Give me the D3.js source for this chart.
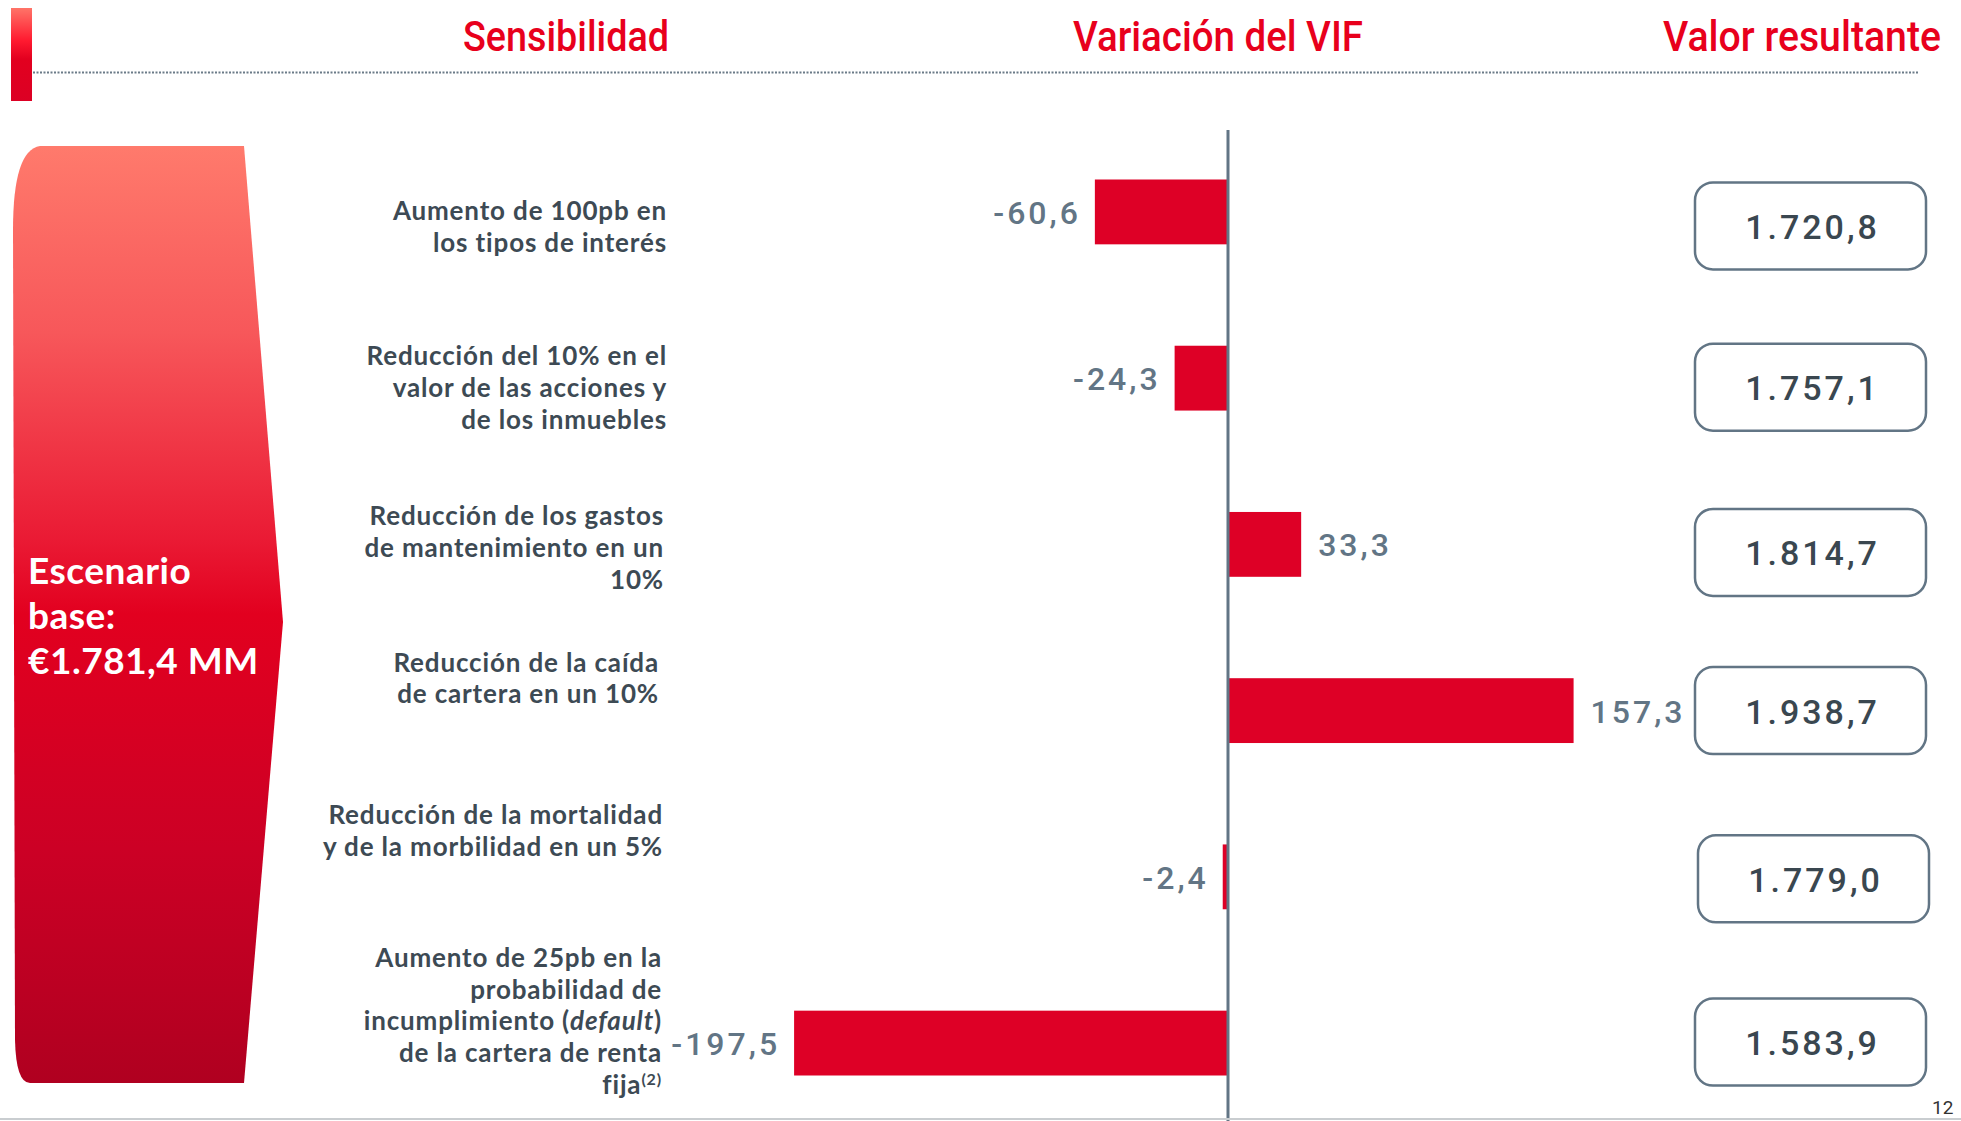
<!DOCTYPE html>
<html><head><meta charset="utf-8">
<script src="https://cdn.jsdelivr.net/npm/d3@7"></script>
<style>
html,body{margin:0;padding:0;background:#fff;}
svg{display:block;}
</style></head>
<body>
<svg id="chart" width="1961" height="1121"></svg>
<script>
// ---- data ----
const categories = ["c1","c2","c3","c4","c5","c6"];
const labelLines = [
  ["Aumento de 100pb en","los tipos de interés"],
  ["Reducción del 10% en el","valor de las acciones y","de los inmuebles"],
  ["Reducción de los gastos","de mantenimiento en un","10%"],
  ["Reducción de la caída","de cartera en un 10%"],
  ["Reducción de la mortalidad","y de la morbilidad en un 5%"],
  ["Aumento de 25pb en la","probabilidad de","incumplimiento (default)","de la cartera de renta","fija(2)"]
];
const variation = [-60.6, -24.3, 33.3, 157.3, -2.4, -197.5];
const resulting = [1720.8, 1757.1, 1814.7, 1938.7, 1779.0, 1583.9];
const headers = ["Sensibilidad","Variación del VIF","Valor resultante"];
const baseLines = ["Escenario","base:","€1.781,4 MM"];

// ---- layout ----
const labelDy = [8, -13, -19, -39, -53, -76];
const labelRight = [667, 667, 664, 659, 663, 662];
const boxDy = [14, 9, 8, 0, 2, -1];
const boxDx = [0, 0, 0, 0, 3, 0];

const svg = d3.select("#chart");
const defs = svg.append("defs");
const fmt = v => d3.format(".1f")(v).replace(".", ",").replace("\u2212", "-");
const fmtK = v => {
  const s = d3.format(",.1f")(v);
  return s.replace(/,/g, "#").replace(".", ",").replace(/#/g, ".");
};

// gradients
const g1 = defs.append("linearGradient").attr("id","gArrow").attr("x1",0).attr("y1",0).attr("x2",0).attr("y2",1);
[[0,"#ff7a6c"],[0.2,"#f7575a"],[0.42,"#ea1a34"],[0.5,"#e2001f"],[0.75,"#cc0025"],[1,"#b00020"]]
  .forEach(([o,c])=>g1.append("stop").attr("offset",o).attr("stop-color",c));
const g2 = defs.append("linearGradient").attr("id","gSmall").attr("x1",0).attr("y1",0).attr("x2",0).attr("y2",1);
[[0,"#ff7468"],[0.35,"#ff1a30"],[0.55,"#e2001f"],[1,"#dc0024"]]
  .forEach(([o,c])=>g2.append("stop").attr("offset",o).attr("stop-color",c));

// header
svg.append("rect").attr("x",11).attr("y",8).attr("width",21).attr("height",93).attr("fill","url(#gSmall)");
svg.append("line").attr("x1",33).attr("x2",1918).attr("y1",72.5).attr("y2",72.5)
  .attr("stroke","#6b7b88").attr("stroke-width",2).attr("stroke-dasharray","2,1.5");
const headerPos = [[463,206],[1073,290],[1663,278]];
headers.forEach((h,i)=>{
  svg.append("text").attr("x",headerPos[i][0]).attr("y",51)
    .attr("textLength",headerPos[i][1]).attr("lengthAdjust","spacingAndGlyphs")
    .attr("font-family","Roboto, 'Open Sans', sans-serif").attr("font-size",42).attr("font-weight",500)
    .attr("fill","#e8001c").text(h);
});

// left arrow
const arrowPath = "M40,146 L244,146 L283,622 L244,1083 L30,1083 Q16,1083 15,1040 L13,230 Q13,150 40,146 Z";
svg.append("path").attr("d",arrowPath).attr("fill","url(#gArrow)");
baseLines.forEach((t,i)=>{
  svg.append("text").attr("x",28).attr("y",584 + i*45)
    .attr("font-family","Lato, 'Open Sans', sans-serif").attr("font-size",37).attr("font-weight",700)
    .attr("letter-spacing",0.5)
    .attr("fill","#ffffff").text(t);
});

// scales
const x = d3.scaleLinear().domain([-200, 200]).range([1228 - 439.4, 1228 + 439.4]);
const y = d3.scaleBand().domain(categories).range([179.5, 1075.5]).paddingInner(0.61).paddingOuter(0);
const bw = y.bandwidth();

// bars
svg.append("g").selectAll("rect").data(variation).join("rect")
  .attr("x", d => x(Math.min(0,d)))
  .attr("width", d => Math.abs(x(d) - x(0)))
  .attr("y", (d,i) => y(categories[i]))
  .attr("height", bw)
  .attr("fill", "#de0026");

// zero axis
svg.append("line").attr("x1",x(0)).attr("x2",x(0)).attr("y1",130).attr("y2",1121)
  .attr("stroke","#627585").attr("stroke-width",3);

// value labels
svg.append("g").selectAll("text").data(variation).join("text")
  .attr("x", d => d < 0 ? x(d) - 14 : x(d) + 17)
  .attr("y", (d,i) => y(categories[i]) + bw/2 + 12)
  .attr("text-anchor", d => d < 0 ? "end" : "start")
  .attr("font-family","Roboto, sans-serif").attr("font-size",32).attr("font-weight",500)
  .attr("letter-spacing",3)
  .attr("fill","#627585").text(d => fmt(d));

// category labels
const lineH = 31.7;
const lab = svg.append("g");
labelLines.forEach((lines,i)=>{
  const cy = y(categories[i]) + bw/2;
  lines.forEach((ln,j)=>{
    const ty = cy + labelDy[i] + j*lineH;
    const t = lab.append("text").attr("text-anchor","end")
      .attr("x",labelRight[i]).attr("y",ty)
      .attr("font-family","Lato, 'Open Sans', sans-serif").attr("font-size",26).attr("font-weight",700)
      .attr("letter-spacing",0.85)
      .attr("fill","#3d4a54");
    if (ln.includes("(default)")) {
      t.append("tspan").text("incumplimiento (");
      t.append("tspan").attr("font-style","italic").text("default");
      t.append("tspan").text(")");
    } else if (ln === "fija(2)") {
      t.append("tspan").text("fija");
      t.append("tspan").attr("font-size",16).attr("dy",-9).text("(2)");
    } else {
      t.text(ln);
    }
  });
});

// result boxes
const boxW = 231, boxH = 87;
const boxes = svg.append("g").selectAll("g").data(resulting).join("g")
  .attr("transform",(d,i)=>`translate(${1695 + boxDx[i]},${y(categories[i]) + bw/2 + boxDy[i] - boxH/2})`);
boxes.append("rect").attr("width",boxW).attr("height",boxH).attr("rx",18).attr("ry",18)
  .attr("fill","#fff").attr("stroke","#627585").attr("stroke-width",2.5);
boxes.append("text").attr("x",boxW/2 + 2).attr("y",boxH/2 + 13).attr("text-anchor","middle")
  .attr("font-family","Roboto, sans-serif").attr("font-size",34).attr("font-weight",500)
  .attr("letter-spacing",3).attr("fill","#3a4750").text(d => fmtK(d));

// bottom line and page number
svg.append("line").attr("x1",0).attr("x2",1961).attr("y1",1119).attr("y2",1119)
  .attr("stroke","#c9cdd0").attr("stroke-width",2);
svg.append("text").attr("x",1932).attr("y",1114).attr("font-family","Roboto, sans-serif")
  .attr("font-size",19).attr("fill","#333").text("12");
</script>
</body></html>
